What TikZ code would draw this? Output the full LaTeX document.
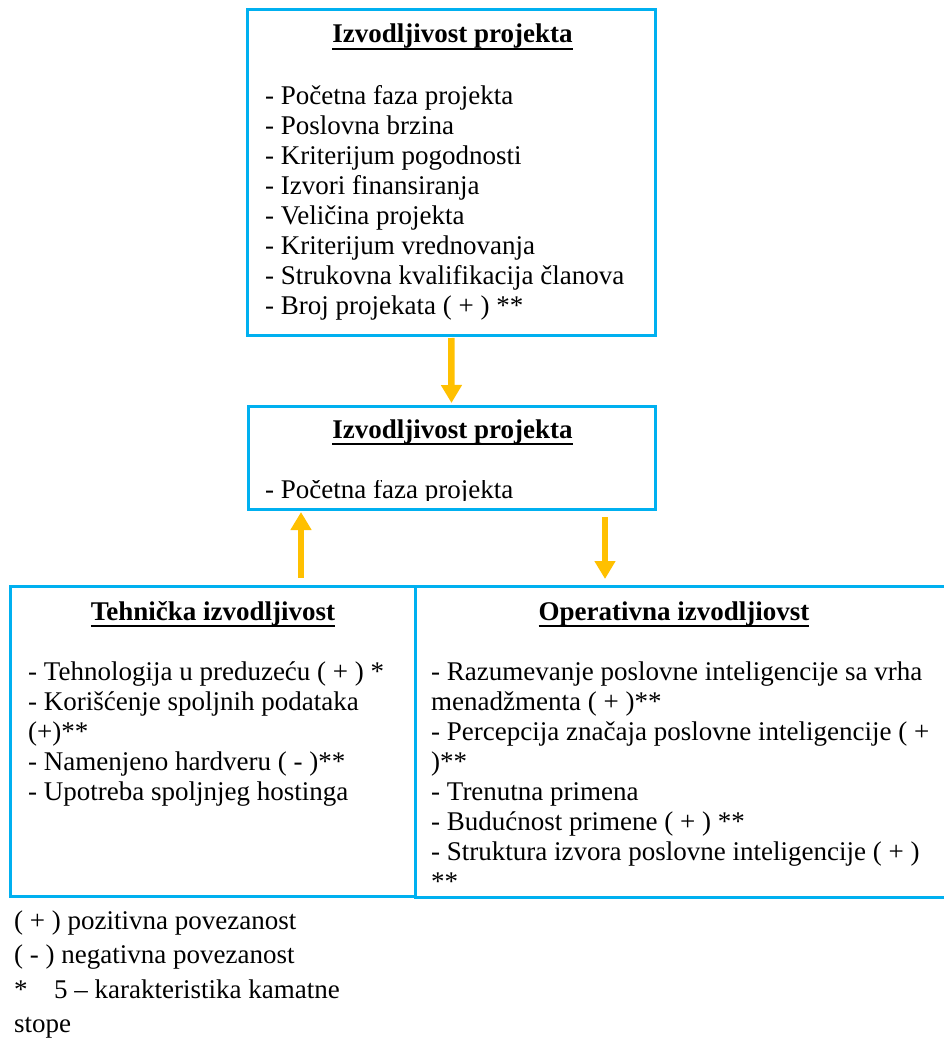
\documentclass[tikz,border=0pt]{standalone}
\usepackage{fontspec}
\setmainfont{Liberation Serif}
\usetikzlibrary{arrows.meta}
\definecolor{boxblue}{HTML}{00B0F0}
\definecolor{arrowgold}{HTML}{FFC000}
% bold heading with a rule drawn through the descender zone
\newcommand\headline[1]{\setbox0=\hbox{\bfseries #1}\rlap{\rule[-7pt]{\wd0}{2pt}}\box0}
\begin{document}
\begin{tikzpicture}[x=1pt,y=-1pt,
  frame/.style={draw=boxblue,line width=3pt,rectangle,inner sep=0pt,outer sep=0pt},
  heading/.style={anchor=base,inner sep=0pt,font=\fontsize{27}{30}\selectfont},
  items/.style={anchor=base west,inner sep=0pt,font=\fontsize{27}{30}\selectfont},
  flow/.style={draw=arrowgold,line width=6.5pt,-{Triangle[width=20pt,length=18pt]}}]
\useasboundingbox (0,0) rectangle (943,1040);

% frames
\node[frame,minimum width=407.5pt,minimum height=325pt] (top) at (451.3,172.5) {};
\node[frame,minimum width=407pt,minimum height=103pt] (mid) at (451.5,458) {};
\node[frame,minimum width=404.5pt,minimum height=310pt] (tech) at (212.75,741.5) {};
\node[frame,minimum width=535pt,minimum height=311pt] (oper) at (682.5,742) {};

% upper frame content
\node[heading] (topT) at (452.5,43) {\headline{Izvodljivost projekta}};
\node[items] (topL) at (265,105) {\parbox[t]{380pt}{\raggedright
- Početna faza projekta\\
- Poslovna brzina\\
- Kriterijum pogodnosti\\
- Izvori finansiranja\\
- Veličina projekta\\
- Kriterijum vrednovanja\\
- Strukovna kvalifikacija članova\\
- Broj projekata ( + ) **}};

% middle frame content (last line cut at the frame)
\node[heading] (midT) at (452.5,438) {\headline{Izvodljivost projekta}};
\begin{scope}
\clip (250,480) rectangle (650,500.5);
\node[items] (midL) at (265,498) {- Početna faza projekta};
\end{scope}

% technical feasibility
\node[heading] (techT) at (213,620) {\headline{Tehnička izvodljivost}};
\node[items] (techL) at (28,680) {\parbox[t]{380pt}{\raggedright
- Tehnologija u preduzeću ( + ) *\\
- Korišćenje spoljnih podataka\\
(+)**\\
- Namenjeno hardveru ( - )**\\
- Upotreba spoljnjeg hostinga}};

% operational feasibility
\node[heading] (operT) at (674,620) {\headline{Operativna izvodljiovst}};
\node[items] (operL) at (431,680) {\parbox[t]{510pt}{\raggedright
- Razumevanje poslovne inteligencije sa vrha\\
menadžmenta ( + )**\\
- Percepcija značaja poslovne inteligencije ( +\\
)**\\
- Trenutna primena\\
- Budućnost primene ( + ) **\\
- Struktura izvora poslovne inteligencije ( + )\\
{}**}};

% legend
\node[anchor=base west,inner sep=0pt,font=\fontsize{27}{34.5}\selectfont] (legend) at (14,929) {\parbox[t]{400pt}{\raggedright
( + ) pozitivna povezanost\\
( - ) negativna povezanost\\
\makebox[40pt][l]{*}5 – karakteristika kamatne\\
stope}};

% arrows
\draw[flow,shorten <=3pt,shorten >=3.5pt] (top.south) -- (mid.north);
\draw[flow,shorten <=8.5pt,shorten >=2.5pt] ([xshift=-150.5pt]mid.south |- tech.north) -- ([xshift=-150.5pt]mid.south);
\draw[flow,shorten <=7.5pt,shorten >=7.5pt] ([xshift=153.5pt]mid.south) -- ([xshift=153.5pt]mid.south |- oper.north);
\end{tikzpicture}
\end{document}
